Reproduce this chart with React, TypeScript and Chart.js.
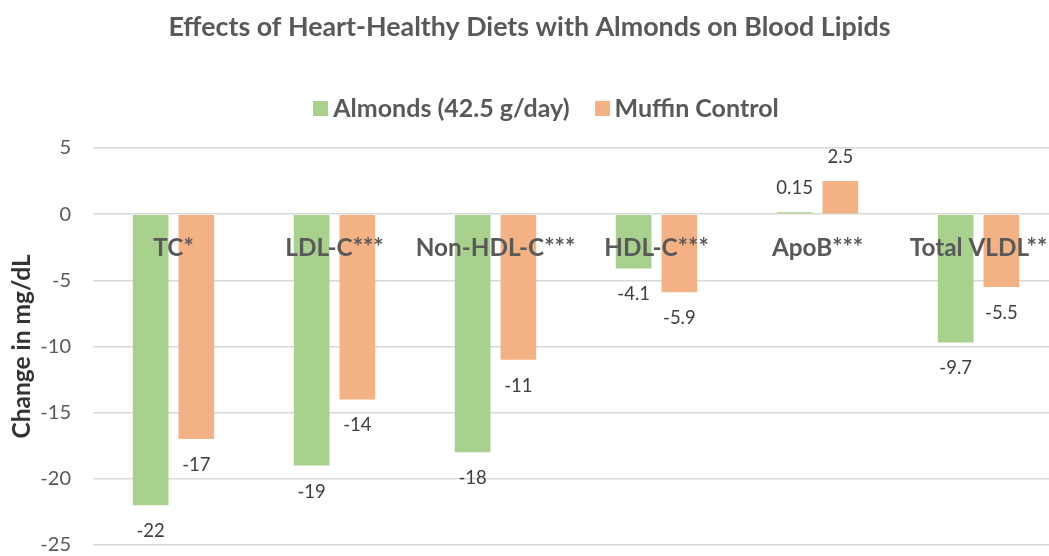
import React, { useEffect, useRef } from 'react';
import { Chart, registerables } from 'chart.js';

Chart.register(...registerables);

const chartTitle = 'Effects of Heart-Healthy Diets with Almonds on Blood Lipids';
const categories = ['TC*', 'LDL-C***', 'Non-HDL-C***', 'HDL-C***', 'ApoB***', 'Total VLDL**'];
const seriesNames = ['Almonds (42.5 g/day)', 'Muffin Control'];
const almonds = [-22, -19, -18, -4.1, 0.15, -9.7];
const muffin = [-17, -14, -11, -5.9, 2.5, -5.5];
const yMin = -25;
const yMax = 5;
const yStep = 5;
const yTitle = 'Change in mg/dL';

const FONT = 'Lato';
const COLORS = ['#a9d18e', '#f4b183'];

const valueLabels = {
  id: 'valueLabels',
  afterDatasetsDraw(chart: any) {
    const ctx = chart.ctx;
    ctx.save();
    ctx.font = `18.5px ${FONT}`;
    ctx.fillStyle = '#404040';
    ctx.textAlign = 'center';
    ctx.textBaseline = 'middle';
    chart.data.datasets.forEach((ds: any, i: number) => {
      const meta = chart.getDatasetMeta(i);
      meta.data.forEach((bar: any, j: number) => {
        const v = ds.data[j];
        const y = v < 0 ? bar.y + 26 : bar.y - 24;
        ctx.fillText(String(v), bar.x, y);
      });
    });
    ctx.restore();
  },
};

const customLegend = {
  id: 'customLegend',
  afterDraw(chart: any) {
    const ctx = chart.ctx;
    ctx.save();
    ctx.font = `bold 25px ${FONT}`;
    const box = 15;
    const gapText = 5;
    const gapItem = 25;
    const names = chart.data.datasets.map((d: any) => d.label as string);
    const widths = names.map((n: string) => ctx.measureText(n).width);
    const total = widths.reduce((a: number, w: number) => a + box + gapText + w, 0) + gapItem * (names.length - 1);
    let x = 546 - total / 2;
    const cy = 109;
    names.forEach((n: string, i: number) => {
      ctx.fillStyle = chart.data.datasets[i].backgroundColor;
      ctx.fillRect(Math.round(x), cy - 8, box, box);
      x += box + gapText;
      ctx.fillStyle = '#595959';
      ctx.textAlign = 'left';
      ctx.textBaseline = 'middle';
      ctx.fillText(n, x, cy);
      x += widths[i] + gapItem;
    });
    ctx.restore();
  },
};

export default function App() {
  const ref = useRef<HTMLCanvasElement>(null);
  useEffect(() => {
    if (!ref.current) return;
    const chart = new Chart(ref.current, {
      type: 'bar',
      data: {
        labels: categories,
        datasets: [
          { label: seriesNames[0], data: almonds, backgroundColor: COLORS[0], categoryPercentage: 0.568, barPercentage: 0.78 },
          { label: seriesNames[1], data: muffin, backgroundColor: COLORS[1], categoryPercentage: 0.568, barPercentage: 0.78 },
        ],
      },
      options: {
        responsive: false,
        animation: false,
        layout: { padding: { left: 0, right: 0, top: 0, bottom: 11 } },
        plugins: {
          title: {
            display: true,
            text: chartTitle,
            color: '#595959',
            font: { family: FONT, size: 26.8, weight: 'bold', lineHeight: 1.2 },
            padding: { top: 11, bottom: 104.8 },
          },
          legend: { display: false },
          tooltip: { enabled: false },
        },
        scales: {
          x: {
            position: { y: 0 } as any,
            grid: { display: false, drawTicks: false },
            border: { display: false },
            ticks: {
              color: '#595959',
              font: { family: FONT, size: 24.3, weight: 'bold' },
              padding: 19,
              z: 1,
              maxRotation: 0,
              autoSkip: false,
            },
            afterFit(scale: any) {
              scale.height = 0;
              scale.paddingLeft = 0;
              scale.paddingRight = 0;
            },
          },
          y: {
            min: yMin,
            max: yMax,
            ticks: {
              stepSize: yStep,
              color: '#595959',
              font: { family: FONT, size: 20 },
              padding: 22,
            },
            grid: { color: '#d9d9d9', lineWidth: 1.5, drawTicks: false },
            border: { display: false },
            title: {
              display: true,
              text: yTitle,
              color: '#333333',
              font: { family: FONT, size: 24.5, weight: 'bold' },
              padding: { top: 7, bottom: 0 },
            },
            afterFit(scale: any) {
              scale.width = 93;
              scale.paddingTop = 0;
              scale.paddingBottom = 11;
            },
          },
        },
      },
      plugins: [valueLabels, customLegend],
    });
    return () => chart.destroy();
  }, []);
  return (
    <div style={{ position: 'fixed', left: 0, top: 0, width: 1049, height: 556, overflow: 'hidden', background: '#fff' }}>
      <canvas ref={ref} width={1059} height={556} style={{ display: 'block' }} />
    </div>
  );
}
